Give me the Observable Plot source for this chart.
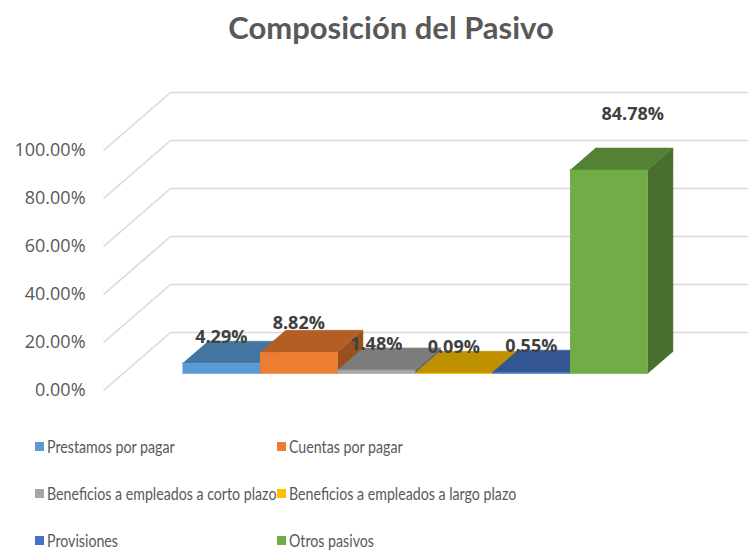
<!DOCTYPE html>
<html>
<head>
<meta charset="utf-8">
<script src="https://cdn.jsdelivr.net/npm/d3@7"></script>
<script src="https://cdn.jsdelivr.net/npm/@observablehq/plot@0.6"></script>
<style>
  body { margin: 0; background: #fff; }
  #wrap { position: relative; width: 748px; height: 550px; overflow: hidden; background: #fff;
          font-family: Lato, "Open Sans", sans-serif; }
  #title { position: absolute; left: 34px; width: 714px; top: 9px; text-align: center;
           font-weight: bold; font-size: 31px; line-height: 36px; color: #595959; }
  #chart { position: absolute; left: 0; top: 60px; }
  .sw { position: absolute; width: 9px; height: 9px; }
  .lt { position: absolute; font-size: 16.5px; line-height: 20px; color: #595959; white-space: nowrap;
        transform: scaleX(0.86); transform-origin: 0 50%; }
</style>
</head>
<body>
<div id="wrap">
  <div id="title">Composición del Pasivo</div>
  <div id="chart"></div>
  <div id="legend"></div>
</div>
<script>
// ---- data ----
const categories = [
  "Prestamos por pagar",
  "Cuentas por pagar",
  "Beneficios a empleados a corto plazo",
  "Beneficios a empleados a largo plazo",
  "Provisiones",
  "Otros pasivos"
];
const values = [4.29, 8.82, 1.48, 0.09, 0.55, 84.78];
const colors = ["#5B9BD5", "#ED7D31", "#A5A5A5", "#FFC000", "#4472C4", "#70AD47"];
const yTicks = [0, 20, 40, 60, 80, 100];
const yTickLabels = ["0.00%", "20.00%", "40.00%", "60.00%", "80.00%", "100.00%"];
const valueLabels = ["4.29%", "8.82%", "1.48%", "0.09%", "0.55%", "84.78%"];

// ---- 3D (oblique) layout in data units ----
const KX = 67 / 77.5;   // x-shift (category units) for full depth
const KY = 58 / 2.4;    // y-shift (percent units) for full depth
const D0 = 0.293, D1 = 0.672;     // bar front / back depth
const FLOOR_L = -0.766, FLOOR_R = 7.5;

function shade(c, f) {
  const o = d3.rgb(c);
  return d3.rgb(o.r * f, o.g * f, o.b * f).formatHex();
}
const pt = (x, y, d) => ({x: x + d * KX, y: y + d * KY});

const verts = [];
values.forEach((v, i) => {
  const c = colors[i];
  const faces = [
    {name: "side", col: shade(c, 0.64), pts: [pt(i + 1, 0, D0), pt(i + 1, 0, D1), pt(i + 1, v, D1), pt(i + 1, v, D0)]},
    {name: "top", col: shade(c, 0.75), pts: [pt(i, v, D0), pt(i + 1, v, D0), pt(i + 1, v, D1), pt(i, v, D1)]},
    {name: "front", col: c, pts: [pt(i, 0, D0), pt(i + 1, 0, D0), pt(i + 1, v, D0), pt(i, v, D0)]}
  ];
  faces.forEach(f => f.pts.forEach(p => verts.push({face: i + "-" + f.name, color: f.col, x: p.x, y: p.y})));
});

const grid = [];
yTicks.forEach(t => {
  grid.push({x1: FLOOR_L, y1: t, x2: FLOOR_L + KX, y2: t + KY});
  grid.push({x1: FLOOR_L + KX, y1: t + KY, x2: FLOOR_R + KX, y2: t + KY});
});

const labelRows = values.map((v, i) => ({x: i + 0.5 + D0 * KX, y: v + D0 * KY, text: valueLabels[i], i}));

const chart = Plot.plot({
  width: 748,
  height: 350,
  margin: 0,
  x: {domain: [0, 6], range: [162.4, 627.4], axis: null},
  y: {domain: [0, 100], range: [330, 90], axis: null},
  color: {type: "identity"},
  marks: [
    Plot.link(grid, {x1: "x1", y1: "y1", x2: "x2", y2: "y2", stroke: "#d9d9d9", strokeWidth: 1.6}),
    Plot.text(yTicks, {x: FLOOR_L, y: d => d, text: (d, i) => yTickLabels[i], textAnchor: "end", dx: -18,
      fontSize: 18, fontFamily: "'Open Sans', sans-serif", fill: "#595959"}),
    Plot.line(verts, {x: "x", y: "y", z: "face", fill: "color", stroke: "color", strokeWidth: 0.6}),
    Plot.text(labelRows.filter(d => d.i !== 1 && d.i !== 5), {x: "x", y: "y", text: "text", dy: -26,
      fontSize: 18, fontWeight: "bold", fontFamily: "'Open Sans', sans-serif", fill: "#404040"}),
    Plot.text(labelRows.filter(d => d.i === 1), {x: "x", y: "y", text: "text", dy: -29,
      fontSize: 18, fontWeight: "bold", fontFamily: "'Open Sans', sans-serif", fill: "#404040"}),
    Plot.text(labelRows.filter(d => d.i === 5), {x: "x", y: "y", text: "text", dx: 24, dy: -56,
      fontSize: 18, fontWeight: "bold", fontFamily: "'Open Sans', sans-serif", fill: "#404040"})
  ]
});
document.getElementById("chart").appendChild(chart);

// ---- legend (HTML, below the chart) ----
const legend = document.getElementById("legend");
const colX = [35, 277], rowY = [447, 494, 541];
categories.forEach((name, i) => {
  const cx = colX[i % 2], cy = rowY[Math.floor(i / 2)];
  const sw = document.createElement("div");
  sw.className = "sw";
  sw.style.left = cx + "px";
  sw.style.top = (cy - 5) + "px";
  sw.style.background = colors[i];
  legend.appendChild(sw);
  const t = document.createElement("div");
  t.className = "lt";
  t.style.left = (cx + 12) + "px";
  t.style.top = (cy - 10) + "px";
  t.textContent = name;
  legend.appendChild(t);
});
</script>
</body>
</html>
